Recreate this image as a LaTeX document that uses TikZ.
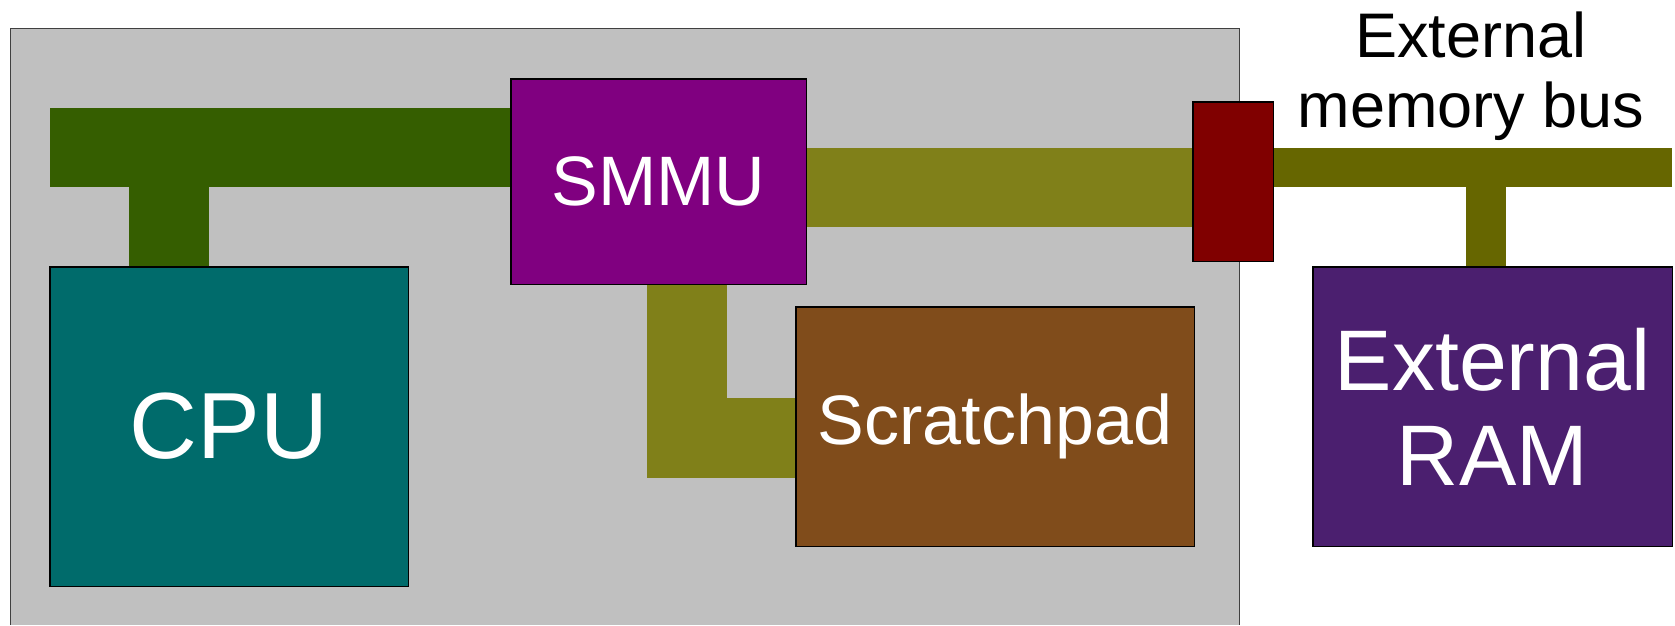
\documentclass[tikz,border=0pt]{standalone}
\usepackage{fontspec}
\setmainfont{Liberation Sans}
\definecolor{chipgray}{HTML}{C0C0C0}
\definecolor{cpubus}{HTML}{355E00}
\definecolor{cputeal}{HTML}{006B6B}
\definecolor{smmupurple}{HTML}{800080}
\definecolor{olivebus}{HTML}{808019}
\definecolor{padbrown}{HTML}{804C1B}
\definecolor{portred}{HTML}{800000}
\definecolor{extbus}{HTML}{666600}
\definecolor{rampurple}{HTML}{4B1F6F}
\tikzset{
  block/.style={draw=black, line width=1pt, inner sep=0pt, text=white, align=center},
  bus/.style={line width=#1, line cap=butt, line join=miter},
}
\begin{document}
\begin{tikzpicture}[x=1pt, y=-1pt]
\useasboundingbox (0,0) rectangle (1675,625);

% chip outline (runs off the bottom edge)
\fill[chipgray] (10,28) rectangle (1239,625);
\draw[black!75, line width=1pt] (10,625) -- (10,28) -- (1239,28) -- (1239,625);

% blocks
\node[block, fill=cputeal, minimum width=358pt, minimum height=319pt,
      font=\fontsize{94}{100}\selectfont] (cpu) at (229,426.5) {CPU};
\node[block, fill=smmupurple, minimum width=295pt, minimum height=205pt,
      font=\fontsize{70}{80}\selectfont] (smmu) at (658.5,181.5) {SMMU};
\node[block, fill=padbrown, minimum width=398pt, minimum height=239pt,
      font=\fontsize{70}{80}\selectfont] (pad) at (995,426.5) {Scratchpad};
\node[block, fill=rampurple, minimum width=359pt, minimum height=279pt,
      font=\fontsize{86}{95}\selectfont] (ram) at (1492.5,406.5) {External\\RAM};

% buses
\coordinate (cpubusL) at (50,147.5);
\draw[bus=79pt, cpubus] (cpubusL) -- (cpubusL -| smmu.west);
\draw[bus=80pt, cpubus] (169,147.5) -- (169,147.5 |- cpu.north);

\node[block, fill=portred, minimum width=80pt, minimum height=159pt] (port) at (1233,181.5) {};

\draw[bus=79pt, olivebus] (smmu.east |- 0,187.5) -- (port.west |- 0,187.5);
\draw[bus=80pt, olivebus] (smmu.south -| 687,0) -- (687,438) -- (pad.west |- 0,438);

\coordinate (extbusR) at (1672,167.5);
\draw[bus=39pt, extbus] (port.east |- extbusR) -- (extbusR);
\draw[bus=40pt, extbus] (1486,167.5) -- (1486,167.5 |- ram.north);

% redraw block outlines over the bus ends
\draw[black, line width=1pt] (smmu.south west) rectangle (smmu.north east);
\draw[black, line width=1pt] (port.south west) rectangle (port.north east);
\draw[black, line width=1pt] (cpu.south west) rectangle (cpu.north east);
\draw[black, line width=1pt] (pad.south west) rectangle (pad.north east);
\draw[black, line width=1pt] (ram.south west) rectangle (ram.north east);

% bus label
\node[inner sep=0pt, align=center, anchor=north, font=\fontsize{63}{70}\selectfont] (label) at (1471,12) {External\\memory bus};
\end{tikzpicture}
\end{document}
